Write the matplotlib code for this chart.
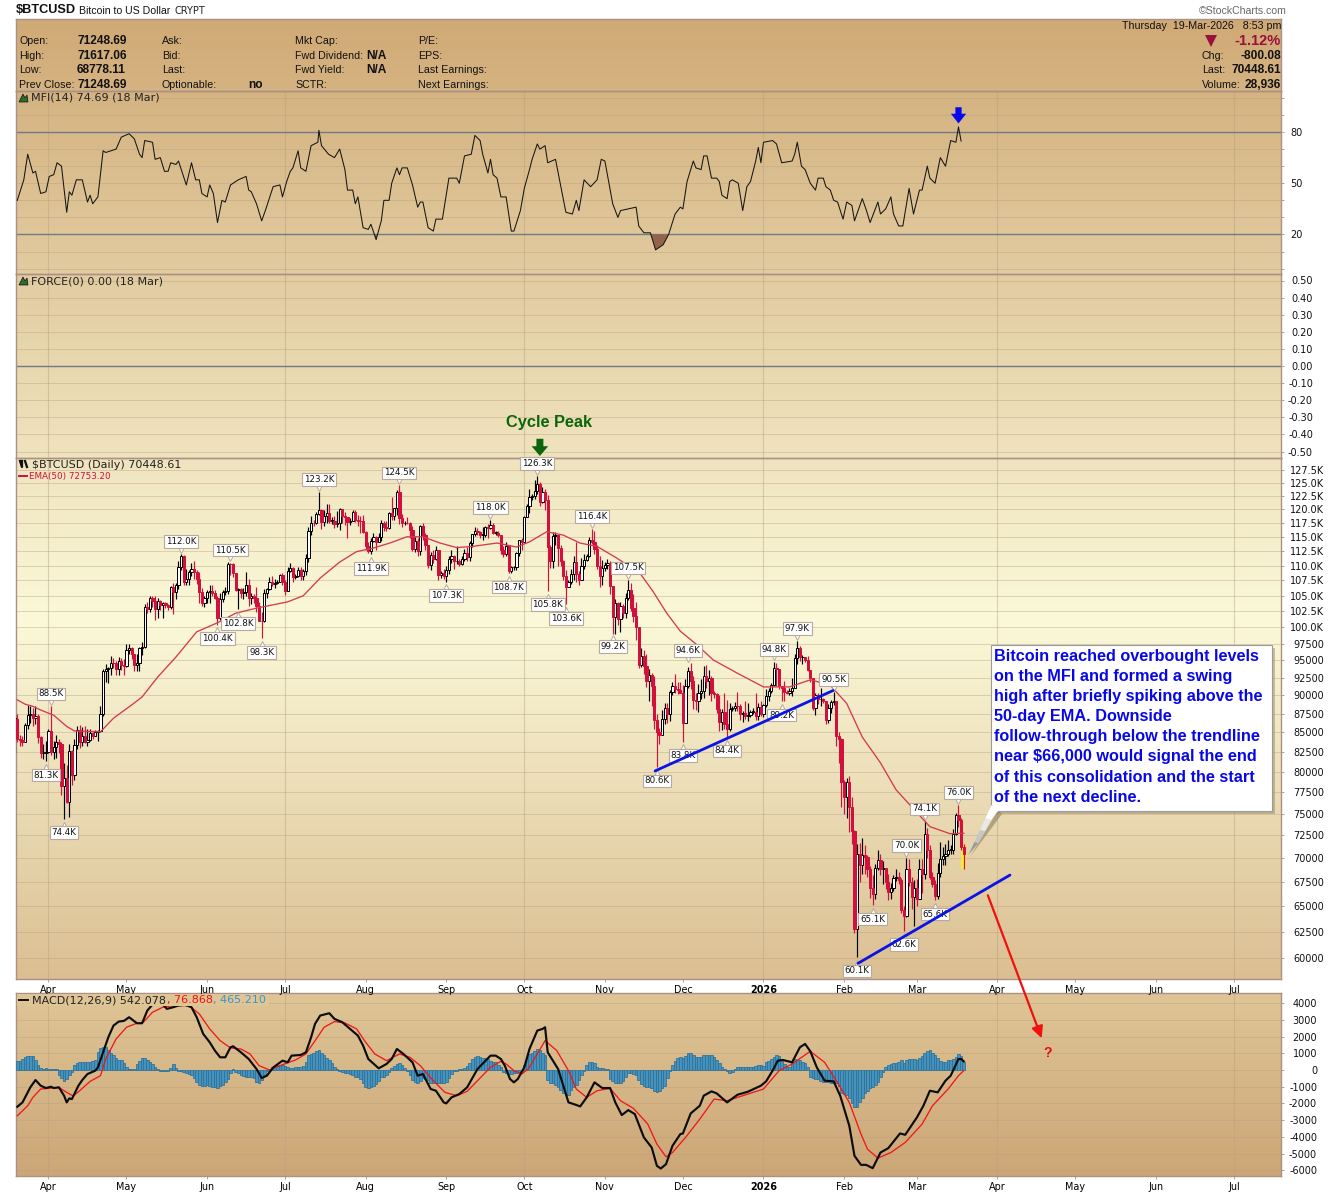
import numpy as np
import matplotlib
matplotlib.use("Agg")
import matplotlib.pyplot as plt
from matplotlib.patches import Rectangle, Polygon
from matplotlib.colors import LinearSegmentedColormap
from matplotlib.transforms import offset_copy

# ---------- daily prices in thousands of USD, 19-Mar-2025 .. 19-Mar-2026 ----------
close_mar25 = [86.8,84.2,84.0,83.8,86.0,87.3,87.5,86.9,87.2,84.4,82.4,82.4,82.5]
high_mar25 = [87.4,87.4,84.7,84.5,86.3,88.7,88.5,88.3,88.5,87.5,84.6,83.5,83.9]
low_mar25 = [82.4,83.7,83.2,83.2,83.8,85.5,86.3,85.9,86.1,83.6,81.7,81.6,81.3]
close_apr = [85.2,82.5,83.1,83.8,83.5,78.2,79.2,76.3,82.6,79.6,83.4,85.3,83.7,84.5,83.7,84.0,84.9,84.5,85.1,85.2,87.5,93.4,93.7,93.9,94.7,94.6,93.8,94.9,94.3,94.2]
high_apr = [85.5,88.5,83.9,84.7,84.2,83.7,81.1,80.8,83.5,82.7,84.2,85.8,86.0,85.7,85.8,85.4,85.4,85.1,85.3,85.3,88.5,93.8,94.5,94.0,95.7,95.3,94.9,95.5,95.4,95.2]
low_apr = [82.4,82.1,81.6,81.7,82.4,77.2,74.4,76.2,74.6,78.4,79.0,82.8,83.0,83.2,83.6,83.2,83.9,84.1,84.5,83.9,85.1,87.2,91.9,91.7,92.9,93.9,92.9,92.9,93.6,92.9]
close_may = [96.5,96.9,95.9,94.3,94.7,96.8,97.0,103.2,102.9,104.6,104.1,102.8,104.2,103.5,103.8,103.5,103.2,106.5,105.6,106.8,109.7,111.7,107.3,107.8,108.9,109.4,108.9,107.8,105.6,103.9,104.6]
high_may = [97.4,97.4,97.0,96.0,95.9,97.0,97.7,103.7,104.0,104.9,105.0,104.9,104.7,104.3,104.0,104.0,103.7,106.6,107.0,107.1,110.7,112.0,111.8,109.5,109.2,110.4,110.7,109.3,108.9,106.3,105.0]
low_may = [94.1,95.9,95.2,93.5,93.5,93.4,95.8,96.9,102.3,102.4,103.2,101.2,101.4,102.7,101.5,103.1,102.7,102.8,102.0,104.5,106.1,109.3,106.8,106.7,106.8,108.3,107.7,106.9,103.9,103.3,103.2]
close_jun = [105.6,105.8,105.4,104.7,101.5,104.4,105.6,105.7,110.3,110.2,108.7,105.9,106.1,105.4,105.6,106.8,104.6,104.9,104.6,103.3,101.0,100.9,105.4,106.1,107.3,106.9,107.1,107.3,108.4,107.2]
high_jun = [105.9,106.8,106.8,106.0,105.0,105.4,105.9,106.4,110.6,110.5,110.4,108.6,106.2,106.2,106.2,108.9,107.7,105.5,105.3,106.5,104.0,102.4,106.1,106.3,108.1,108.3,107.8,107.6,108.5,108.7]
low_jun = [103.8,103.8,104.9,104.4,100.4,101.2,104.0,105.1,105.3,108.4,108.1,105.7,102.8,104.6,104.5,105.0,103.4,103.6,103.9,102.4,100.9,98.3,100.8,104.7,105.9,106.6,106.2,106.9,107.2,106.8]
close_jul = [105.7,109.0,109.6,108.0,108.2,109.2,108.3,109.0,111.3,116.0,117.5,117.4,119.1,119.9,117.7,118.7,119.3,117.9,117.9,117.3,117.4,120.0,118.8,118.6,117.6,117.9,119.4,118.0,117.9,117.8,115.8]
high_jul = [107.5,109.8,110.5,109.8,108.5,109.7,109.7,109.5,111.9,116.8,118.8,118.0,119.5,123.2,120.0,119.8,120.9,120.9,118.5,118.8,119.7,120.2,120.1,119.5,118.4,118.4,119.8,119.8,118.9,118.8,118.9]
low_jul = [105.1,105.7,108.9,107.3,107.8,108.0,107.6,107.5,108.4,110.6,115.3,116.9,117.3,118.9,116.4,116.9,117.4,117.4,117.3,116.6,116.8,116.2,117.4,117.1,114.7,117.2,117.8,117.6,117.0,115.7,115.7]
close_aug = [113.3,112.5,114.2,115.0,114.1,115.0,117.5,116.7,116.5,119.3,118.7,120.2,123.3,118.4,117.4,117.5,117.4,116.2,112.9,114.3,112.5,116.9,115.4,113.5,110.1,111.8,111.2,112.6,108.4,108.8,108.2]
high_aug = [116.1,114.0,114.7,115.7,115.1,115.7,118.0,117.8,117.9,119.4,122.3,120.3,123.6,124.5,119.2,117.9,118.5,117.6,116.9,114.9,114.8,117.2,117.4,115.6,113.6,112.4,112.6,113.4,112.6,109.0,109.4]
low_aug = [112.7,112.1,111.9,114.0,112.7,114.3,114.3,116.0,116.0,116.4,118.0,118.0,118.9,117.3,116.8,117.2,117.3,114.7,112.5,112.4,111.6,111.8,114.5,112.7,109.6,109.3,110.4,110.9,107.5,107.9,107.8]
close_sep = [109.2,111.2,111.7,110.7,110.7,110.2,111.2,112.1,111.5,113.9,115.5,116.1,115.9,115.4,115.4,116.8,116.5,117.1,115.7,115.7,115.3,112.7,112.0,113.3,109.0,109.7,109.7,112.1,114.4,114.1]
high_sep = [109.9,111.6,112.6,111.8,113.4,111.2,111.6,112.9,113.2,114.3,115.5,116.8,116.6,116.1,116.8,117.0,117.3,118.0,117.5,116.1,116.0,115.4,113.3,114.0,113.5,110.0,110.0,112.3,114.5,114.8]
low_sep = [107.3,108.6,110.5,109.4,110.2,110.0,110.1,110.7,110.7,110.8,113.2,115.2,115.3,114.8,114.4,114.9,114.8,116.4,115.5,115.4,115.0,112.0,111.5,111.6,108.7,108.7,109.2,109.2,111.6,112.7]
close_oct = [118.6,120.6,122.3,122.4,123.5,124.8,121.4,123.3,121.7,113.2,110.8,115.2,115.3,113.0,110.8,108.2,106.5,107.2,108.6,110.6,108.5,107.6,110.0,111.0,111.6,114.5,114.1,112.9,110.0,108.3,109.6]
high_oct = [118.7,121.0,123.9,122.9,125.6,126.3,125.2,124.2,123.8,122.6,113.5,115.9,115.9,115.4,113.6,111.0,109.2,107.5,109.4,111.7,114.0,109.0,111.3,112.0,111.9,115.0,116.4,116.0,113.6,111.6,111.0]
low_oct = [113.9,118.5,119.3,121.7,122.0,122.9,120.6,121.1,119.9,105.8,109.6,109.6,113.6,110.0,110.0,107.5,103.6,106.4,106.9,107.6,107.3,106.8,107.5,109.5,110.8,111.5,113.8,112.0,109.5,106.4,106.8]
close_nov = [110.1,110.5,106.6,101.6,103.9,101.3,103.3,102.3,104.7,106.0,103.0,101.7,100.0,94.4,95.6,94.2,92.1,92.9,91.4,86.6,85.1,84.7,86.8,88.3,87.4,90.5,91.3,90.9,90.8,90.4]
high_nov = [110.6,111.2,110.8,106.6,104.5,104.0,104.0,103.6,105.5,107.5,107.0,105.3,104.0,99.8,96.8,96.6,96.0,93.8,93.2,92.8,87.5,85.6,88.0,88.9,88.9,90.7,91.9,93.1,91.9,91.9]
low_nov = [109.1,109.5,105.3,98.9,98.9,100.3,99.2,101.5,101.5,104.3,102.5,100.8,98.0,93.9,94.0,93.0,91.2,89.3,88.6,85.4,80.6,83.5,85.3,86.1,86.2,86.5,90.1,90.4,90.2,90.4]
close_dec = [86.3,91.3,93.5,92.1,89.4,89.2,90.4,90.6,92.7,92.0,92.5,90.3,90.2,88.2,86.4,87.8,86.1,85.5,88.1,88.3,88.6,88.5,87.4,87.6,87.2,87.3,87.8,87.8,87.2,88.4,87.5]
high_dec = [91.5,92.3,94.0,94.6,92.7,90.3,91.6,92.3,94.2,94.4,93.6,92.7,90.6,90.4,90.0,88.2,90.4,89.4,89.0,88.6,89.1,90.5,88.8,87.9,89.3,88.9,88.0,88.3,90.3,89.0,89.2]
low_dec = [83.8,86.2,91.0,90.9,88.2,88.0,87.7,89.5,89.6,91.0,90.0,89.3,89.7,87.6,85.2,85.3,85.4,84.4,85.2,87.9,87.9,87.9,86.6,86.4,86.8,86.5,87.0,87.4,86.7,86.7,87.2]
close_jan = [88.7,89.9,90.6,91.5,93.9,93.7,91.3,91.0,90.5,90.4,90.6,91.1,95.3,96.9,95.5,95.5,95.1,93.6,92.5,88.3,90.0,89.5,89.5,89.2,86.6,88.3,89.1,89.2,84.5,84.1,78.7]
high_jan = [88.8,90.9,91.0,91.8,94.8,94.7,93.5,91.4,92.0,90.8,91.1,92.4,96.0,97.9,97.1,95.8,95.5,95.6,93.4,92.5,90.4,90.4,91.0,89.7,89.3,88.8,89.4,90.5,89.2,85.0,84.3]
low_jan = [87.1,88.4,89.2,90.4,91.3,91.3,90.9,89.2,89.3,90.2,90.1,89.9,91.0,94.5,94.9,94.5,94.8,93.4,91.9,88.0,87.3,88.8,88.6,89.0,86.1,86.2,87.6,88.7,83.3,81.1,75.8]
close_feb = [76.9,78.7,75.8,73.0,62.7,70.5,69.3,70.3,70.1,68.8,66.9,66.2,68.9,69.8,68.8,68.9,67.5,66.4,66.9,67.9,68.0,67.7,64.6,64.0,68.8,67.5,65.9,66.9]
high_feb = [79.0,79.2,79.5,76.9,73.1,71.5,71.7,72.2,71.4,70.3,69.2,68.2,69.4,70.9,70.5,69.7,69.0,68.3,67.4,68.2,68.8,68.5,67.9,65.0,70.0,69.9,68.0,67.7]
low_feb = [75.0,74.5,72.9,71.5,62.4,60.1,67.5,68.3,68.3,68.0,65.8,65.1,65.7,68.7,68.2,67.3,66.7,65.6,65.7,66.5,67.6,67.3,64.3,62.6,63.9,67.1,64.7,63.0]
close_mar26 = [65.7,68.8,68.3,72.7,70.9,68.0,67.3,66.0,68.4,69.9,70.2,70.5,70.9,70.9,72.7,74.8,74.2,71.25,70.45]
high_mar26 = [67.8,69.9,69.9,74.1,73.3,71.4,68.5,67.7,69.5,71.8,71.2,71.6,72.0,71.4,73.2,75.1,76.0,74.5,71.6]
low_mar26 = [65.0,65.7,66.3,67.8,70.0,67.8,67.0,65.6,65.7,68.0,69.3,69.3,70.2,70.5,70.5,72.6,73.5,70.9,68.8]

# EMA(50), in thousands of USD
ema_days = [-12,-9,-6,-3,2,7,10,20,25,32,36,42,49,57,65,72,80,92,98,104.5,112,118.5,124.8,131.3,137.8,144,150.6,157,163,172.5,180,185,191.6,198,204.4,211,218.5,227.5,232.5,237.8,243,249.5,255.6,264.7,275,285,293,300.5,307,313,320,326,332.5,339,346.7,352]
ema_vals = [89.4,88.8,88.5,88.0,87.3,85.8,85.2,85.1,86.9,88.7,89.8,92.6,95.5,99.3,100.7,102.2,103.0,104.0,105.0,107.9,110.6,112.4,113.0,113.9,115.0,115.0,113.9,113.1,113.3,113.9,113.2,114.1,115.9,115.3,113.9,113.3,111.3,108.7,105.7,102.2,99.4,97.3,95.1,93.2,91.2,91.2,92.2,91.5,88.9,84.4,81.1,77.8,75.6,73.5,72.7,72.75]

# Money Flow Index
mfi_days = [-12,-9.5,-8,-6,-5,-3,-1,0.3,2,3.3,5,7,8,9,10.7,13,15,16,17,19,21,22,26,28,31,33,35,36,37,40,41,43,44.6,46,47,49,50,53,55,56.6,58,59,61,62,63.4,65,66.7,68,70,73,76,77,78,80,82,83.4,86.4,89,90,91.6,93,94,96,97,99,101,103.6,104,105,107.7,110,112,114,115,117,118,119,121,123,124,126,128,129,131,132,134,135,136,138,140,142,143,144,146,148,149,151.5,154,157,158,160,162.6,164,166,167,169,170,171,172.5,174,176,178,179,181.5,183,185,186,188,189,191,192,195,199,201.5,203,204,206,208.5,211,212.6,214,217,219,220,226,227,229,231.5,233.5,236.4,238.5,
            241,243,244,245.6,248,249,251,252,253.3,255,257,258,259,261,262,263,265.3,267,268.6,270,272,273,274,275,278.5,280,282,286,287,288,289.6,291,293,295,296,298,299,300.7,302,303.5,305.6,307,309,310,313,314.6,316,319,320,322,324,325,327,328.6,331,332.7,335,336,338,339,341,343,345,347,349,350,351]
mfi_vals = [40,52,67,56,57,44,45,54,55,62,60,33,45,43,52,52,39,43,38,42,69,68,70,77,79,76,67,65,75,74,64,65,57,57,62,61,63,49,62,52,52,44,42,49,44,27,40,39,49,52,54,46,45,38,28,34,48,49,42,51,57,59,69,59,57,72,74,81,72,67,65,70,58,46,46,38,42,24,23,26,17,28,40,40,50,59,55,59,59,49,36,39,39,24,22,29,29,53,53,50,66,67,78,75,67,56,64,55,53,42,42,22,22,34,47,58,64,73,70,72,62,64,33,32,40,34,52,48,52,64,63,38,30,34,36,25,21,21,11,14,20,
            32,36,35,51,63,59,58,66,66,53,53,51,43,41,51,52,50,34,48,51,63,71,62,74,75,73,62,63,67,74,60,58,50,46,53,53,48,46,40,39,29,39,37,28,41,34,27,39,32,35,42,32,25,25,47,32,46,46,60,53,50,65,60,75,74,83,74.7]

# MACD line
macd_days = [-12,-10,-7,-5,-3,-1,1,2,4,6,7,8,9,11.5,13,15,18,19,21,23,25,27,29,31,34,36,38,40,42,44,45.5,48,50,52.5,55,57,59.5,62,64,66,68,70,71,74,77,80,82,84,86.5,90,92,93.5,97,99,101,102.5,104.5,108,110,113,116,119,121,123,127,130,132,134,136.5,140,142,144,147,149,152,153,155,158,161,165,170,172,174,175.5,177.5,179,180.5,183,185,188,190,191,192,196,198,200,202,204.5,207,210,213,216,218,220.5,223,225.5,229,232,234,235.5,237.5,240,243,244,247,250.5,252,255,257,261,265,269,274,276,278.5,280.5,282.5,286,289,291,293,295.5,298.5,302,304.5,308,310,312.5,314.5,317,320,323,327.5,329.5,334,336.5,339,342,345,347,350,351,352]
macd_vals = [-2200,-1940,-1040,-600,-940,-1080,-1000,-1080,-1040,-1540,-1940,-1700,-1740,-940,-600,-240,-40,160,1060,1960,2660,2900,2940,3160,2800,2800,3560,3920,4400,3920,3660,3760,3860,3900,3760,3160,2160,1660,1160,760,760,1360,1420,1060,660,60,-480,-340,160,560,460,860,900,1060,1960,2760,3260,3400,3060,2860,2460,2060,1460,660,100,360,660,1260,960,460,-340,-240,-1140,-1240,-1940,-2000,-1640,-1440,-1040,60,860,860,660,260,-540,-740,-540,160,1260,2360,2460,2560,1060,60,-940,-1940,-2040,-2180,-1640,-740,-1080,-1080,-1940,-2700,-2400,-2640,-4040,-4640,-5740,-5900,-5640,-4540,-3840,-3800,-2600,-2140,-1540,-1280,-1400,-1940,-1480,-1300,-940,-680,-40,560,600,460,1360,1560,1120,160,-640,-680,-1540,-3340,-5140,-5680,-5680,-5880,-4940,-4680,-3800,-3880,-2840,-2140,-1240,-1340,-640,-340,660,660,520]

# MACD signal line
signal_days = [-12,-8,-6,-3,0,4,7,9.5,12,16,20,22,26,30,34,36.5,40,44,48,54,58,62,66,70,74,77.5,81,85,90,95,99,103,106,110,114,118.5,122,125.5,130,135,139,143,148,152.5,157,161,165,170,174,176,179,182,184.5,188,191,195.5,200,203,207,211,216,220,225,230.5,234,237.5,240,245,250.5,256,261,267,275,281,286,293,298.5,303,308,312.5,315,319,324,329.5,336,340,346,350,352]
signal_vals = [-2740,-2140,-1640,-1140,-1100,-1040,-1340,-1560,-1240,-680,-340,660,1860,2560,2800,2860,3460,3760,3860,3860,3360,2460,1760,1320,1260,960,260,0,320,600,960,1860,2560,2900,2820,2460,1660,960,560,960,760,260,-640,-1340,-1540,-1280,-640,160,520,360,-40,-240,60,960,1760,1160,-40,-1140,-1640,-1240,-1100,-1840,-2300,-3240,-4440,-5200,-4940,-4040,-2940,-1740,-1840,-1540,-1140,-40,360,1120,460,-640,-1940,-3840,-4740,-5280,-4940,-4340,-3240,-2140,-1140,-340,-40]

# MACD histogram, one value a day from day -12, in units of 20 MACD points
hist_units = [28,27,32,40,43,43,42,30,15,5,3,5,
 2,2,2,2,-15,-25,-32,-28,-15,-5, 15,20,25,25,25,25,25,27,30,55, 65,68,68,60,52,45,35,30,30,20,
 10,2,2,2,18,28,35,35,30,25, 18,10,3,-3,-2,-2,-2,5,18,5, -2,-3,-6,-8,-12,-15,-25,-35,-45,-48,
 -48,-45,-47,-50,-52,-55,-48,-45,-35,-28, -10,3,-5,-10,-15,-18,-20,-20,-22,-25, -35,-38,-30,-15,-3,3,8,12,15,15,
 15,12,8,6,6,8,8,8,12,25, 45,48,52,58,60,50,45,35,30,20, 8,3,-2,-5,-8,-10,-12,-15,-20,-22,
 -28,-38,-50,-55,-52,-48,-42,-32,-22,-20, -15,-5,5,12,18,20,15,5,-3,-15, -30,-35,-38,-32,-25,-28,-30,-38,-40,-38,
 -38,-38,-38,-35,-25,-12,-3,-2,2,3, 5,12,22,32,38,42,40,35,35,32, 28,25,25,15,10,-5,-8,-12,-12,-10,
 -8,-5,-2,15,35,48,50,58,62,60, 50,45,-30,-38,-40,-45,-50,-60,-70,-75, -75,-60,-50,-45,-30,-15,-3,15,25,25,
 20,8,5,5,3,3,-28,-33,-38,-40, -38,-32,-22,-8,-8,-12,-15,-30,-42,-48, -50,-52,-55,-62,-65,-62,-55,-48,-25,-3,
 15,28,35,38,35,42,50,52,45,40, 40,40,45,45,45,45,40,30,20,8, 3,-3,-8,-5,2,8,10,8,8,8,
 10,10,12,15,15,12,25,28,32,40, 45,42,30,18,10,10,25,32,30,30, 25,22,10,-20,-25,-28,-28,-32,-35,-35,
 -35,-38,-38,-40,-48,-68,-72,-75,-85,-100, -112,-110,-95,-85,-70,-62,-55,-50,-45,-35, -20,-5,8,15,18,20,22,25,30,20,
 30,32,32,32,30,35,42,50,58,60, 50,45,35,28,25,25,30,30,32,40, 48,42,25]

# swing labels: day, price (thousands), text
high_labels = [(1,88.5),(51,112.0),(70,110.5),(104,123.2),(135,124.5),(170,118.0),(188,126.3),(209,116.4),(223,107.5),(246,94.6),(279,94.8),(288,97.9),(302,90.5),(330,70.0),(337,74.1),(350,76.0)]
low_labels = [(-1,81.3),(6,74.4),(65,100.4),(73,102.8),(82,98.3),(124,111.9),(153,107.3),(177,108.7),(192,105.8),(199,103.6),(217,99.2),(234,80.6),(244,83.8),(261,84.4),(282,89.2),(311,60.1),(317,65.1),(329,62.6),(341,65.6)]

# hand-drawn trendlines and arrows: day, price (thousands)
trend_1_days, trend_1_prices = [233.3, 301.8], [80.1, 90.7]
trend_2_days, trend_2_prices = [311.3, 369.8], [59.5, 68.2]

month_days = [0,30,61,91,122,153,183,214,244,275,306,334,365,395,426,456]
month_names = ['Apr','May','Jun','Jul','Aug','Sep','Oct','Nov','Dec','2026','Feb','Mar','Apr','May','Jun','Jul']
quarter_days = [0,91,183,275,365,456]

price_ticks = [60+2.5*i for i in range(28)]
price_tick_labels = [f'{int(t*1000)}' if t < 99 else f'{t:.1f}K' for t in price_ticks]

callout_lines = ['Bitcoin reached overbought levels','on the MFI and formed a swing','high after briefly spiking above the','50-day EMA. Downside','follow-through below the trendline','near $66,000 would signal the end','of this consolidation and the start','of the next decline.']

header_left = [('Open:','71248.69'),('High:','71617.06'),('Low:','68778.11'),('Prev Close:','71248.69')]
header_col2 = ['Ask:','Bid:','Last:','Optionable:']
header_col3 = ['Mkt Cap:','Fwd Dividend:','Fwd Yield:','SCTR:']
header_col4 = ['P/E:','EPS:','Last Earnings:','Next Earnings:']
header_right = [('Chg:','-800.08'),('Last:','70448.61'),('Volume:','28,936')]

# ---------- assemble ----------
close = np.array(close_mar25+close_apr+close_may+close_jun+close_jul+close_aug+close_sep+close_oct+close_nov+close_dec+close_jan+close_feb+close_mar26)
high = np.array(high_mar25+high_apr+high_may+high_jun+high_jul+high_aug+high_sep+high_oct+high_nov+high_dec+high_jan+high_feb+high_mar26)
low = np.array(low_mar25+low_apr+low_may+low_jun+low_jul+low_aug+low_sep+low_oct+low_nov+low_dec+low_jan+low_feb+low_mar26)
days = np.arange(-13, 353)
open_ = np.r_[close[0], close[:-1]]
hist = np.array(hist_units)*20

W, H = 1340, 1192
plt.rcParams['font.family'] = ['DejaVu Sans']
fig = plt.figure(figsize=(W/100, H/100), dpi=100, facecolor='white')
L, R = 16, 1281
XLIM = (-12.5, 474.04)
BORDER = '#ab9184'
GRID = '#b99f80'
RED = '#d2103c'
UI = 'Liberation Sans'
MONO = 'DejaVu Sans'

def axpx(t, b, **kw):
    return fig.add_axes([L/W, 1-b/H, (R-L)/W, (b-t)/H], **kw)

def ftext(x, y, s, **kw):
    kw.setdefault('va', 'center')
    return fig.text(x/W, 1-y/H, s, **kw)

# gradient backgrounds
bg = axpx(19, 979, zorder=0)
cm = LinearSegmentedColormap.from_list('g', [(0,'#d0aa76'),(601/960,'#fbf9d9'),(1,'#dbbf92')])
bg.imshow(np.linspace(0,1,480)[:,None], aspect='auto', cmap=cm, extent=(0,1,0,1))
bg.axis('off')
bg2 = axpx(993, 1176, zorder=0)
cm2 = LinearSegmentedColormap.from_list('g2', ['#dfc596','#cca677'])
bg2.imshow(np.linspace(0,1,200)[:,None], aspect='auto', cmap=cm2, extent=(0,1,0,1))
bg2.axis('off')

def panel(t, b, z=2):
    ax = axpx(t, b, zorder=z, facecolor='none')
    ax.set_xlim(*XLIM)
    for s in ax.spines.values():
        s.set_color(BORDER); s.set_linewidth(1.0)
    ax.yaxis.tick_right()
    ax.tick_params(axis='y', which='both', direction='out', length=2, width=0.6, color=BORDER,
                   labelsize=7.0, pad=4.5, labelcolor='#111111')
    ax.tick_params(axis='x', which='both', length=0)
    ax.set_xticks([])
    for d in quarter_days:
        ax.axvline(d, color=GRID, lw=0.8, alpha=0.45, zorder=1)
    return ax

def hgrid(ax, vals):
    for v in vals:
        ax.axhline(v, color=GRID, lw=0.7, alpha=0.42, zorder=1)

def right_labels(ax, pad):
    ax.tick_params(axis='y', which='major', pad=pad)
    for lab in ax.get_yticklabels():
        lab.set_ha('right')

# header panel
hd = panel(19, 91)
hd.set_yticks([]); hd.set_ylim(0, 1)
for a in hd.lines[:]:
    a.remove()

ftext(16, 10, '$BTCUSD', family=UI, fontsize=9.2, fontweight='bold', color='#111')
ftext(79, 10.5, 'Bitcoin to US Dollar', family=UI, fontsize=7.6, color='#111')
ftext(175, 11, 'CRYPT', family=MONO, fontsize=7.0, color='#222')
ftext(1287, 11, '©StockCharts.com', family=UI, fontsize=7.6, color='#666', ha='right')
rows = [41, 56, 70, 85]
for (lab, val), y in zip(header_left, rows):
    ftext(19, y, lab, family=UI, fontsize=7.7, color='#111')
    ftext(77, y, val, family=UI, fontsize=8.6, fontweight='bold', color='#111')
for lab, y in zip(header_col2, rows):
    ftext(162, y, lab, family=UI, fontsize=7.7, color='#111')
ftext(248, 85, 'no', family=UI, fontsize=8.6, fontweight='bold', color='#111')
for lab, y in zip(header_col3, rows):
    ftext(295, y, lab, family=UI, fontsize=7.7, color='#111')
ftext(366, 56, 'N/A', family=UI, fontsize=8.6, fontweight='bold', color='#111')
ftext(366, 70, 'N/A', family=UI, fontsize=8.6, fontweight='bold', color='#111')
for lab, y in zip(header_col4, rows):
    ftext(418, y, lab, family=UI, fontsize=7.7, color='#111')
ftext(1281, 26, 'Thursday  19-Mar-2026   8:53 pm', family=UI, fontsize=7.7, color='#111', ha='right')
fig.add_artist(Polygon([[1205/W,1-35/H],[1217/W,1-35/H],[1211/W,1-47/H]], closed=True, transform=fig.transFigure, fc='#99103c', ec='none', zorder=6))
ftext(1281, 41, '-1.12%', family=UI, fontsize=10.5, fontweight='bold', color='#99103c', ha='right')
for (lab, val), y in zip(header_right, rows[1:]):
    ftext(1202, y, lab, family=UI, fontsize=7.7, color='#111')
    ftext(1281, y, val, family=UI, fontsize=8.6, fontweight='bold', color='#111', ha='right')

def icon(x, y):
    fig.add_artist(Polygon([[x/W,1-(y+4)/H],[(x+4)/W,1-(y-4)/H],[(x+6)/W,1-(y)/H],[(x+8)/W,1-(y-3)/H],[(x+9)/W,1-(y+4)/H]], closed=True, transform=fig.transFigure, fc='#2e6b2e', ec='#111', lw=0.5, zorder=6))

# MFI
mfi_ax = panel(91, 274.4)
mfi_ax.set_ylim(20-(274.4-234.5)/1.7083, 80+(132-91)/1.7083)
hgrid(mfi_ax, range(0, 101, 10))
mfi_ax.set_yticks([20, 50, 80]); mfi_ax.set_yticklabels(['20', '50', '80'])
mfi_ax.set_yticks(range(0, 101, 10), minor=True)
mfi_ax.tick_params(axis='y', which='minor', length=2)
mfi_ax.axhline(80, color='#6f7a86', lw=1.0, zorder=2)
mfi_ax.axhline(20, color='#6f7a86', lw=1.0, zorder=2)
mfi_d, mfi_v = np.array(mfi_days, float), np.array(mfi_vals, float)
mfi_ax.fill_between(mfi_d, mfi_v, 20, where=mfi_v < 20.5, interpolate=True, color='#93634c', zorder=3, lw=0)
mfi_ax.plot(mfi_d, mfi_v, color='#151515', lw=0.75, zorder=4)
mfi_ax.annotate('', xy=(350, 85), xytext=(350, 94.5), annotation_clip=False,
                arrowprops=dict(facecolor='#0808f0', edgecolor='#0808f0', width=4.5, headwidth=11, headlength=7, shrink=0, lw=0))
icon(19, 98)
ftext(31, 98, 'MFI(14) 74.69 (18 Mar)', family=MONO, fontsize=8.0, color='#222')

# Force index
fc_ax = panel(274.4, 457.7)
fc_ax.set_ylim(-(457.7-366)/171.0, (366-274.4)/171.0)
force_ticks = [round(-0.5+0.1*i, 1) for i in range(11)]
hgrid(fc_ax, force_ticks)
fc_ax.set_yticks(force_ticks); fc_ax.set_yticklabels([f'{t:.2f}' for t in force_ticks])
right_labels(fc_ax, 21)
fc_ax.axhline(0, color='#6f7a86', lw=1.0, zorder=2)
icon(19, 281)
ftext(31, 281.5, 'FORCE(0) 0.00 (18 Mar)', family=MONO, fontsize=8.0, color='#222')

# Price
px = panel(457.7, 979, z=5)
px.set_yscale('log')
SC = 647.4
px.set_ylim(127.5*np.exp(-(979-470)/SC), 127.5*np.exp((470-457.7)/SC))
hgrid(px, price_ticks)
px.set_yticks(price_ticks); px.set_yticklabels(price_tick_labels)
px.minorticks_off()
right_labels(px, 29)
px.tick_params(axis='x', length=2, width=0.6, color=BORDER, labelsize=6.9, pad=2)
px.set_xticks(month_days); px.set_xticklabels(month_names)
px.get_xticklabels()[9].set_fontweight('bold')

up = close >= open_
# highlight of the latest bar
px.bar(days[-1], high[-1]-low[-1], bottom=low[-1], width=2.0, color='#f4e83c', lw=0, zorder=2.5)
px.vlines(days[up], low[up], high[up], color='black', lw=0.85, zorder=3)
px.vlines(days[~up], low[~up], high[~up], color=RED, lw=0.85, zorder=3)
bw = 0.82
px.bar(days[up], np.maximum(close[up]-open_[up], 0.08), bottom=open_[up], width=bw, facecolor='white', edgecolor='black', lw=0.72, zorder=3.2)
px.bar(days[~up], np.maximum(open_[~up]-close[~up], 0.08), bottom=close[~up], width=bw, facecolor=RED, edgecolor=RED, lw=0.72, zorder=3.3)
px.plot(ema_days, ema_vals, color='#d43a52', lw=0.95, zorder=3.6)
px.plot(trend_1_days, trend_1_prices, color='#0a14e6', lw=2.0, zorder=8, solid_capstyle='round')
px.plot(trend_2_days, trend_2_prices, color='#0a14e6', lw=2.0, zorder=8, solid_capstyle='round')

LAB_EDGE = '#b8a99f'
def swing(d, p, is_high):
    sign = 1 if is_high else -1
    off = 9.0 if is_high else 10.0
    tr = offset_copy(px.transData, fig=fig, y=sign*(off-4.4), units='points')
    px.plot([d], [p], marker='v' if is_high else '^', ms=6.5, mfc='white', mec=LAB_EDGE, mew=0.7, transform=tr, zorder=6, clip_on=False)
    px.annotate(f'{p:.1f}K', xy=(d, p), xytext=(0, sign*off), textcoords='offset points', ha='center', va='center',
                fontsize=6.3, family=MONO, color='#111', zorder=7, annotation_clip=False,
                bbox=dict(boxstyle='square,pad=0.2', fc='white', ec=LAB_EDGE, lw=0.8))
for d, p in high_labels:
    swing(d, p, True)
for d, p in low_labels:
    swing(d, p, False)

px.text(192.5, 137.3, 'Cycle Peak', color='#0b650b', fontsize=11.8, fontweight='bold', family=UI, ha='center', va='center', clip_on=False, zorder=8)
px.annotate('', xy=(189, 130.3), xytext=(189, 133.8), annotation_clip=False, zorder=8,
            arrowprops=dict(facecolor='#0b650b', edgecolor='#0b650b', width=5, headwidth=12, headlength=7, shrink=0, lw=0))
px.annotate('', xy=(382, 53.0), xytext=(361.3, 66.1), annotation_clip=False, zorder=8,
            arrowprops=dict(arrowstyle='-|>,head_width=0.34,head_length=0.7', color='#f01010', lw=1.6, shrinkA=0, shrinkB=0))

# legend of price panel
fig.add_artist(plt.Line2D([20/W,22/W,22/W], [1-461/H,1-467/H,1-461/H], color='#111', lw=1.6, zorder=7))
fig.add_artist(plt.Line2D([25/W,27/W], [1-461/H,1-467/H], color='#111', lw=1.6, zorder=7))
ftext(32, 464.5, '$BTCUSD (Daily) 70448.61', family=MONO, fontsize=8.0, color='#222', zorder=8)
fig.add_artist(plt.Line2D([19/W,27/W], [1-476/H,1-476/H], color=RED, lw=1.4, zorder=7))
ftext(29, 476.5, 'EMA(50) 72753.20', family=MONO, fontsize=6.3, color=RED, zorder=8)

# MACD
mc = panel(993.3, 1176)
MS = 0.0167
mc.set_ylim(-(1176-1070)/MS, (1070-993.3)/MS)
macd_ticks = list(range(-6000, 4001, 1000))
hgrid(mc, macd_ticks)
mc.set_yticks(macd_ticks); mc.set_yticklabels([str(t) for t in macd_ticks])
right_labels(mc, 24)
mc.tick_params(axis='x', length=2, width=0.6, color=BORDER, labelsize=6.9, pad=2)
mc.set_xticks(month_days); mc.set_xticklabels(month_names)
mc.get_xticklabels()[9].set_fontweight('bold')
mc.bar(days[1:], hist, width=1.0, facecolor='#4693be', edgecolor='#2c7098', lw=0.55, zorder=3)
mc.plot(signal_days, signal_vals, color='#f01818', lw=0.95, zorder=4)
mc.plot(macd_days, macd_vals, color='#0c0c0c', lw=1.55, zorder=5)
mc.text(384.4, 1018, '?', color='#e01010', fontsize=10, fontweight='bold', family=UI, ha='center', va='center', zorder=8)
fig.add_artist(Rectangle((17/W, 1-1006/H), 252/W, 12/H, transform=fig.transFigure, fc='#dfc596', ec='none', zorder=6))
fig.add_artist(plt.Line2D([19/W,28/W], [1-1000/H,1-1000/H], color='#111', lw=1.4, zorder=7))
ftext(32, 1000.5, 'MACD(12,26,9) 542.078', family=MONO, fontsize=8.0, color='#222', zorder=8)
ftext(167, 1000.5, ', 76.868', family=MONO, fontsize=8.0, color='#ee1111', zorder=8)
ftext(213, 1000.5, ', 465.210', family=MONO, fontsize=8.0, color='#3a96c8', zorder=8)

# callout
def fpoly(pts, **kw):
    fig.add_artist(Polygon([[x/W, 1-y/H] for x, y in pts], closed=True, transform=fig.transFigure, **kw))
fpoly([(994,648),(1275,648),(1275,814),(994,814)], fc='#8c8060', ec='none', alpha=0.45, zorder=9)
fpoly([(970,857),(1002,814),(998,810)], fc='#8c8060', ec='none', alpha=0.6, zorder=9)
fpoly([(990.5,645),(1272,645),(1272,810.5),(990.5,810.5)], fc='white', ec='#9a9a9a', lw=0.8, zorder=10)
# the tail fades from white at the box to grey at its tip
tail_top, tail_left, tail_right = (991.5,805), (998,811), (968.3,855)
fpoly([tail_right,(974.5,842),(978.5,843)], fc='#9a9a9a', ec='none', zorder=11)
fpoly([(974.5,842),(980,830),(985,831),(978.5,843)], fc='#c6c6c6', ec='none', zorder=11)
fpoly([(980,830),(985.5,818),(991,820),(985,831)], fc='#e8e8e8', ec='none', zorder=11)
fpoly([(985.5,818),tail_top,tail_left,(991,820)], fc='white', ec='none', zorder=11)
for i, line in enumerate(callout_lines):
    ftext(994, 657+20*i, line, family=UI, fontsize=11.7, fontweight='bold', color='#0808e6', zorder=12)

fig.savefig('out.png', dpi=100, facecolor='white')
